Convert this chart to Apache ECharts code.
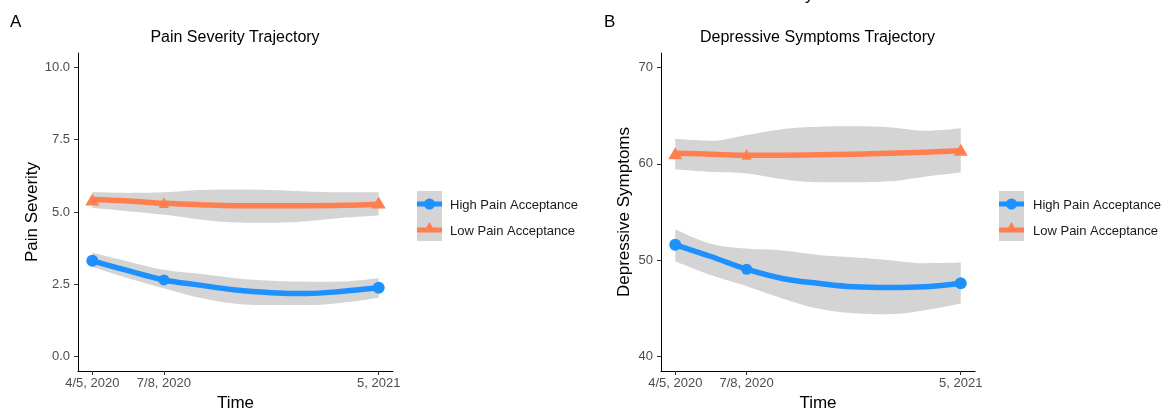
<!DOCTYPE html>
<html>
<head>
<meta charset="utf-8">
<script src="https://cdn.jsdelivr.net/npm/echarts@6/dist/echarts.min.js"></script>
<style>
html,body{margin:0;padding:0;background:#fff;}
#chart{width:1164px;height:411px;}
</style>
</head>
<body>
<div id="chart"></div>
<script>
// ---- data ----
const timeValues = [0, 1, 4];
const timeLabels = ['4/5, 2020', '7/8, 2020', '5, 2021'];
const curveTimes = [0, 0.5, 1, 1.5, 2, 2.5, 3, 3.5, 4];
const groupNames = ['High Pain Acceptance', 'Low Pain Acceptance'];
const panelTitles = ['Pain Severity Trajectory', 'Depressive Symptoms Trajectory'];

const painTicks = [0, 2.5, 5, 7.5, 10];
const painHighPoints = [3.31, 2.65, 2.38];
const painLowPoints = [5.43, 5.33, 5.33];
const painHighFit = [3.31, 2.97, 2.65, 2.47, 2.30, 2.21, 2.18, 2.26, 2.38];
const painHighUpper = [3.59, 3.29, 3.00, 2.86, 2.71, 2.62, 2.59, 2.60, 2.72];
const painHighLower = [3.11, 2.71, 2.36, 2.03, 1.83, 1.78, 1.78, 1.86, 2.03];
const painLowFit = [5.43, 5.38, 5.30, 5.25, 5.22, 5.22, 5.22, 5.23, 5.27];
const painLowUpper = [5.69, 5.66, 5.68, 5.76, 5.78, 5.76, 5.71, 5.68, 5.68];
const painLowLower = [5.14, 5.03, 4.91, 4.74, 4.64, 4.63, 4.68, 4.80, 4.88];

const depTicks = [40, 50, 60, 70];
const depHighPoints = [51.6, 49.06, 47.6];
const depLowPoints = [61.1, 61.0, 61.45];
const depHighFit = [51.6, 50.38, 49.06, 48.1, 47.6, 47.24, 47.17, 47.24, 47.6];
const depHighUpper = [53.2, 51.7, 51.2, 51.0, 50.55, 50.3, 50.0, 49.69, 49.75];
const depHighLower = [49.9, 48.46, 47.3, 46.03, 44.98, 44.5, 44.4, 44.8, 45.5];
const depLowFit = [61.1, 61.0, 60.9, 60.9, 60.93, 61.0, 61.1, 61.2, 61.35];
const depLowUpper = [62.6, 62.4, 63.0, 63.6, 63.85, 63.9, 63.8, 63.44, 63.7];
const depLowLower = [59.4, 59.15, 59.0, 58.4, 58.1, 58.1, 58.2, 58.67, 59.1];

// ---- styles ----
const FONT = 'Liberation Sans, Arial, sans-serif';
const BLUE = '#1E90FF';
const ORANGE = '#FF7F50';
const RIBBON = '#D4D4D4';
const circleSizes = [12, 11, 12];
const triSizes = [[14, 12], [10, 11], [14, 12]];

const chart = echarts.init(document.getElementById('chart'), null, {renderer: 'canvas'});

function xAxisCfg(gridIndex) {
  return {
    type: 'value', gridIndex, min: -0.2, max: 4.2,
    name: 'Time', nameLocation: 'middle', nameGap: 24,
    nameTextStyle: {fontFamily: FONT, fontSize: 17, color: '#000'},
    splitLine: {show: false},
    axisLine: {show: true, onZero: false, lineStyle: {color: '#000', width: 1}},
    axisTick: {show: true, length: 4, customValues: timeValues, lineStyle: {color: '#333'}},
    axisLabel: {
      customValues: timeValues, margin: 6, color: '#4D4D4D', fontFamily: FONT, fontSize: 13,
      formatter: v => timeLabels[timeValues.indexOf(v)]
    }
  };
}
function yAxisCfg(gridIndex, name, min, max, ticks, digits, gap) {
  return {
    type: 'value', gridIndex, min, max,
    name, nameLocation: 'middle', nameGap: gap,
    nameTextStyle: {fontFamily: FONT, fontSize: 17, color: '#000'},
    splitLine: {show: false},
    axisLine: {show: true, onZero: false, lineStyle: {color: '#000', width: 1}},
    axisTick: {show: true, length: 4, customValues: ticks, lineStyle: {color: '#333'}},
    axisLabel: {
      customValues: ticks, margin: 8, color: '#4D4D4D', fontFamily: FONT, fontSize: 13,
      formatter: v => v.toFixed(digits)
    }
  };
}

// ribbon: stacked pair of lines; value put in dimension 0 so that it is the stacked one
function ribbon(idx, lower, upper, stackId) {
  const base = {
    type: 'line', xAxisIndex: idx, yAxisIndex: idx, stack: stackId,
    encode: {x: 1, y: 0},
    smooth: 0.4, showSymbol: false, silent: true, z: 1
  };
  return [
    Object.assign({}, base, {
      data: curveTimes.map((t, i) => [lower[i], t]),
      lineStyle: {opacity: 0}
    }),
    Object.assign({}, base, {
      data: curveTimes.map((t, i) => [upper[i] - lower[i], t]),
      lineStyle: {opacity: 0},
      areaStyle: {color: RIBBON, opacity: 1}
    })
  ];
}
function fitLine(idx, fit, color) {
  return {
    type: 'line', xAxisIndex: idx, yAxisIndex: idx, smooth: 0.4, showSymbol: false,
    silent: true, z: 3,
    data: curveTimes.map((t, i) => [t, fit[i]]),
    lineStyle: {color, width: 5.5, cap: 'butt', join: 'round'}
  };
}
function markers(idx, pts, color, symbol, sizes) {
  return {
    type: 'scatter', xAxisIndex: idx, yAxisIndex: idx, symbol, z: 4, silent: true,
    itemStyle: {color, opacity: 1},
    data: timeValues.map((t, i) => ({value: [t, pts[i]], symbolSize: sizes[i]}))
  };
}

function legendGraphic(x0, textX) {
  const top = 191;
  return [
    {type: 'rect', shape: {x: x0, y: top, width: 25, height: 50}, style: {fill: RIBBON}},
    {type: 'line', shape: {x1: x0, y1: 204, x2: x0 + 25, y2: 204}, style: {stroke: BLUE, lineWidth: 5}},
    {type: 'circle', shape: {cx: x0 + 12.5, cy: 204, r: 5.5}, style: {fill: BLUE}},
    {type: 'line', shape: {x1: x0, y1: 230, x2: x0 + 25, y2: 230}, style: {stroke: ORANGE, lineWidth: 5}},
    {type: 'polygon', shape: {points: [[x0 + 12.5, 222], [x0 + 18.5, 232], [x0 + 6.5, 232]]}, style: {fill: ORANGE}},
    {type: 'text', x: textX, y: 205, style: {text: groupNames[0], fill: '#1a1a1a', font: '13px ' + FONT, verticalAlign: 'middle'}},
    {type: 'text', x: textX, y: 231, style: {text: groupNames[1], fill: '#1a1a1a', font: '13px ' + FONT, verticalAlign: 'middle'}}
  ];
}

const option = {
  backgroundColor: '#fff',
  animation: false,
  grid: [
    {left: 78, top: 53, width: 315, height: 318, containLabel: false, outerBoundsMode: 'none'},
    {left: 661, top: 53, width: 314, height: 318, containLabel: false, outerBoundsMode: 'none'}
  ],
  xAxis: [xAxisCfg(0), xAxisCfg(1)],
  yAxis: [
    yAxisCfg(0, 'Pain Severity', -0.5, 10.5, painTicks, 1, 36),
    yAxisCfg(1, 'Depressive Symptoms', 38.5, 71.5, depTicks, 0, 28)
  ],
  series: [].concat(
    ribbon(0, painHighLower, painHighUpper, 'pH'),
    ribbon(0, painLowLower, painLowUpper, 'pL'),
    ribbon(1, depHighLower, depHighUpper, 'dH'),
    ribbon(1, depLowLower, depLowUpper, 'dL'),
    [
      fitLine(0, painHighFit, BLUE), fitLine(0, painLowFit, ORANGE),
      fitLine(1, depHighFit, BLUE), fitLine(1, depLowFit, ORANGE),
      markers(0, painHighPoints, BLUE, 'circle', circleSizes),
      markers(0, painLowPoints, ORANGE, 'triangle', triSizes),
      markers(1, depHighPoints, BLUE, 'circle', circleSizes),
      markers(1, depLowPoints, ORANGE, 'triangle', triSizes)
    ]
  ),
  graphic: [].concat(
    [
      {type: 'text', x: 235, y: 38, style: {text: panelTitles[0], fill: '#000', font: '16px ' + FONT, align: 'center', verticalAlign: 'middle'}},
      {type: 'text', x: 817.5, y: 38, style: {text: panelTitles[1], fill: '#000', font: '16px ' + FONT, align: 'center', verticalAlign: 'middle'}},
      {type: 'text', x: 10, y: 22, style: {text: 'A', fill: '#000', font: '17px ' + FONT, verticalAlign: 'middle'}},
      {type: 'text', x: 604, y: 22, style: {text: 'B', fill: '#000', font: '17px ' + FONT, verticalAlign: 'middle'}},
      {type: 'text', x: 805, y: 4, style: {text: 'y', fill: '#000', font: '17px ' + FONT, verticalAlign: 'bottom'}}
    ],
    legendGraphic(417, 450),
    legendGraphic(999, 1033)
  )
};
chart.setOption(option);
</script>
</body>
</html>
